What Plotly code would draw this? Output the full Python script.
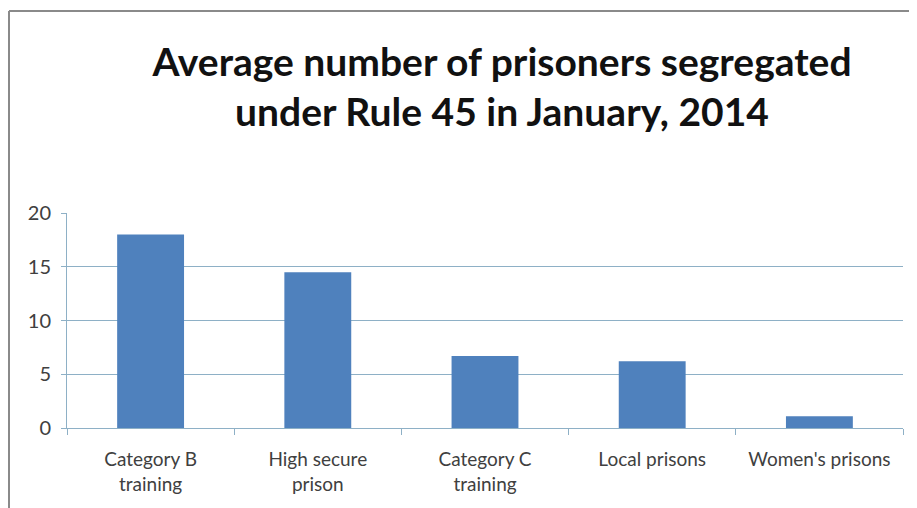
import plotly.graph_objects as go

categories = ["Category B<br>training", "High secure<br>prison", "Category C<br>training", "Local prisons", "Women's prisons"]
values = [18, 14.5, 6.7, 6.2, 1.1]
y_ticks = [0, 5, 10, 15, 20]

fig = go.Figure(go.Bar(x=categories, y=values, marker=dict(color="#4F81BD", line=dict(width=0)), width=0.4))

grid = "#8EB0C6"
W, H = 909, 500
L, R, T, B = 59, 14, 205, 80
PW, PH = W - L - R, H - T - B
fig.update_layout(
    width=W, height=H,
    margin=dict(l=L, r=R, t=T, b=B),
    paper_bgcolor="white", plot_bgcolor="white",
    showlegend=False,
    title=dict(text="<b>Average number of prisoners segregated<br>under Rule 45 in January, 2014</b>",
               x=494 / W, xanchor="center", y=1 - 67.5 / H, yanchor="middle",
               font=dict(family="Lato, Open Sans, sans-serif", size=39, color="#111111")),
    font=dict(family="Lato, Open Sans, sans-serif", color="#404040"),
)
fig.update_xaxes(type="category", showgrid=False, showline=True, linecolor=grid, linewidth=1,
                 ticks="outside", tickson="boundaries", ticklen=6, tickcolor=grid,
                 tickfont=dict(size=19, color="#404040"), ticklabelstandoff=14)
fig.update_yaxes(range=[0, 20], tickvals=y_ticks, showgrid=True, gridcolor=grid, gridwidth=1,
                 showline=True, linecolor=grid, ticks="outside", ticklen=5, tickcolor=grid,
                 zeroline=False, tickfont=dict(size=20, color="#404040"), ticklabelstandoff=6)

# chart area border
xl = (1 - L) / PW
xr = (905 - L) / PW
xend = (W - L) / PW
yt = (PH + T - 3) / PH
fig.add_shape(type="line", xref="paper", yref="paper", x0=xl, x1=xl, y0=-1, y1=yt,
              line=dict(color="#8a8a8a", width=2))
fig.add_shape(type="line", xref="paper", yref="paper", x0=xl, x1=xend, y0=yt, y1=yt,
              line=dict(color="#8a8a8a", width=2))
fig.add_shape(type="line", xref="paper", yref="paper", x0=xr, x1=xr, y0=-1, y1=yt,
              line=dict(color="#f0e8e6", width=1))

fig.write_html("out.html")
